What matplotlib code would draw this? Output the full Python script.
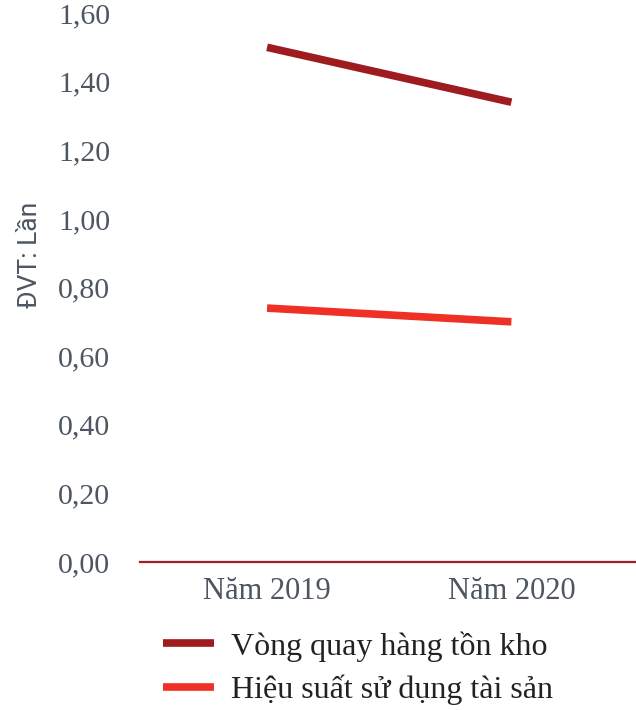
import matplotlib.pyplot as plt

# Datos
categories = ['Năm 2019', 'Năm 2020']
vong_quay_htk = [1.50, 1.34]
hieu_suat_ts = [0.74, 0.70]
series_names = ['Vòng quay hàng tồn kho', 'Hiệu suất sử dụng tài sản']
y_ticks = [0.0, 0.2, 0.4, 0.6, 0.8, 1.0, 1.2, 1.4, 1.6]
y_tick_labels = ['0,00', '0,20', '0,40', '0,60', '0,80', '1,00', '1,20', '1,40', '1,60']

serif = ['Liberation Serif', 'DejaVu Serif']
tick_color = '#4d5661'

fig = plt.figure(figsize=(6.36, 7.10), dpi=100)
ax = fig.add_axes([140 / 636, 148 / 710, 496 / 636, 549 / 710])

x = list(range(len(categories)))
ax.plot(x, vong_quay_htk, color='#9e1b20', linewidth=5.5, solid_capstyle='butt',
        label=series_names[0])
ax.plot(x, hieu_suat_ts, color='#ee3124', linewidth=5.5, solid_capstyle='butt',
        label=series_names[1])

ax.set_xlim(-0.52, 1.51)
ax.set_ylim(0, 1.6)

ax.set_xticks(x)
ax.set_xticklabels(categories, fontfamily=serif, fontsize=22, color=tick_color)
ax.set_yticks(y_ticks)
ax.set_yticklabels(y_tick_labels, fontfamily=serif, fontsize=21.5, color=tick_color)
ax.tick_params(length=0, pad=11)
ax.tick_params(axis='y', pad=21.5)

for s in ['top', 'right', 'left']:
    ax.spines[s].set_visible(False)
ax.spines['bottom'].set_color('#a31d22')
ax.spines['bottom'].set_linewidth(1.6)

# Etiqueta del eje Y
fig.text(30 / 636, 1 - 255 / 710, 'ĐVT: Lần', rotation=90, ha='center', va='center',
         fontfamily=['Roboto', 'DejaVu Sans'], fontsize=19, color=tick_color)

ax.legend(loc='upper left', bbox_to_anchor=(163 / 636, 1 - 631 / 710),
          bbox_transform=fig.transFigure, frameon=False, borderpad=0,
          borderaxespad=0, handlelength=1.6, handletextpad=0.52, labelspacing=0.42,
          prop={'family': serif, 'size': 23}, labelcolor='#222222')

fig.savefig('out.png', dpi=100)
